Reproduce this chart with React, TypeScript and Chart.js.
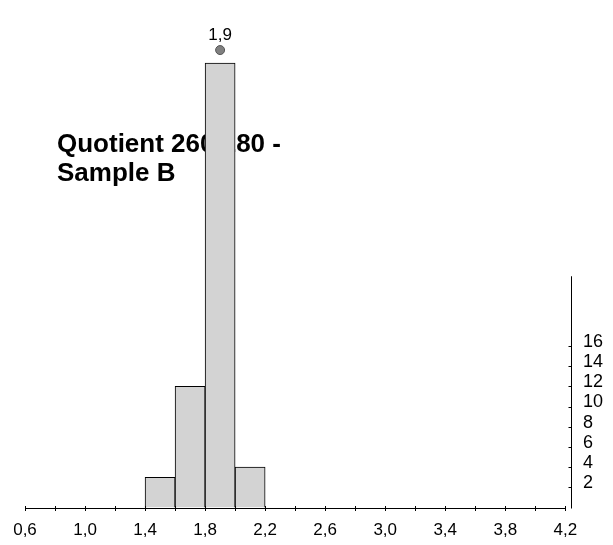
import { useEffect, useRef } from 'react';
import { Chart, registerables } from 'chart.js';

Chart.register(...registerables);

const BIN_CENTERS = [1.5, 1.7, 1.9, 2.1];
const BIN_COUNTS = [3, 12, 44, 4];
const MARKER_X = [1.9];
const MARKER_Y = [45.3];
const MARKER_LABELS = ['1,9'];
const X_TICKS = [0.6, 0.8, 1.0, 1.2, 1.4, 1.6, 1.8, 2.0, 2.2, 2.4, 2.6, 2.8, 3.0, 3.2, 3.4, 3.6, 3.8, 4.0, 4.2];
const X_LABELED = [0.6, 1.0, 1.4, 1.8, 2.2, 2.6, 3.0, 3.4, 3.8, 4.2];
const Y_TICKS = [2, 4, 6, 8, 10, 12, 14, 16];
const Y_AXIS_TOP = 22.9;
const TITLE_LINES = ['Quotient 260/280 -', 'Sample B'];

const FONT = "'Liberation Sans', Arial, sans-serif";

const fmt = (v: number) => v.toFixed(1).replace('.', ',');
const isLabeled = (v: number) => X_LABELED.some((l) => Math.abs(l - v) < 1e-6);

const decorPlugin = {
  id: 'decor',
  beforeDatasetsDraw(chart: any) {
    const ctx = chart.ctx;
    ctx.save();
    ctx.fillStyle = '#000';
    ctx.font = `bold 26px ${FONT}`;
    ctx.textBaseline = 'alphabetic';
    ctx.textAlign = 'left';
    const base = [152, 181];
    TITLE_LINES.forEach((t, i) => ctx.fillText(t, 57, base[i]));
    ctx.restore();
  },
  afterDraw(chart: any) {
    const ctx = chart.ctx;
    const xs = chart.scales.x;
    const ys = chart.scales.y;
    const r = (v: number) => Math.round(v) + 0.5;
    ctx.save();
    ctx.strokeStyle = '#000';
    ctx.lineWidth = 1;
    const y0 = r(ys.getPixelForValue(0));
    // x axis line
    ctx.beginPath();
    ctx.moveTo(r(xs.getPixelForValue(X_TICKS[0])), y0);
    ctx.lineTo(r(xs.getPixelForValue(X_TICKS[X_TICKS.length - 1])), y0);
    ctx.stroke();
    X_TICKS.forEach((v) => {
      const px = r(xs.getPixelForValue(v));
      ctx.beginPath();
      ctx.moveTo(px, y0 - 2.5);
      ctx.lineTo(px, y0 + 2.5);
      ctx.stroke();
    });
    // y axis line
    const ax = r(chart.chartArea.right);
    ctx.beginPath();
    ctx.moveTo(ax, y0);
    ctx.lineTo(ax, ys.getPixelForValue(Y_AXIS_TOP));
    ctx.stroke();
    Y_TICKS.forEach((v) => {
      const py = r(ys.getPixelForValue(v));
      ctx.beginPath();
      ctx.moveTo(ax - 3, py);
      ctx.lineTo(ax, py);
      ctx.stroke();
    });
    // marker labels
    const meta = chart.getDatasetMeta(1);
    ctx.fillStyle = '#000';
    ctx.font = `17px ${FONT}`;
    ctx.textAlign = 'center';
    ctx.textBaseline = 'middle';
    meta.data.forEach((pt: any, i: number) => {
      ctx.fillText(MARKER_LABELS[i], pt.x, pt.y - 15);
    });
    ctx.restore();
  },
};

export default function App() {
  const ref = useRef<HTMLCanvasElement>(null);
  useEffect(() => {
    if (!ref.current) return;
    const chart = new Chart(ref.current, {
      type: 'bar',
      data: {
        datasets: [
          {
            type: 'bar',
            data: BIN_CENTERS.map((x, i) => ({ x, y: BIN_COUNTS[i] })),
            backgroundColor: '#d3d3d3',
            borderColor: '#000',
            borderWidth: 1,
            barPercentage: 1,
            categoryPercentage: 1,
            order: 2,
          } as any,
          {
            type: 'scatter',
            data: MARKER_X.map((x, i) => ({ x, y: MARKER_Y[i] })),
            backgroundColor: '#808080',
            borderColor: '#555',
            borderWidth: 1,
            pointRadius: 4.5,
            order: 1,
          } as any,
        ],
      },
      options: {
        animation: false,
        responsive: true,
        maintainAspectRatio: false,
        layout: { padding: { left: 25, right: 0, top: 0, bottom: 0 } },
        plugins: { legend: { display: false }, tooltip: { enabled: false }, title: { display: false } },
        scales: {
          x: {
            type: 'linear',
            min: 0.6,
            max: 4.238,
            offset: false,
            grid: { display: false, drawTicks: false },
            border: { display: false },
            afterBuildTicks: (s: any) => {
              s.ticks = X_TICKS.map((v) => ({ value: v }));
            },
            afterFit: (s: any) => {
              s.height = 37.5;
            },
            ticks: {
              autoSkip: false,
              maxRotation: 0,
              padding: 13,
              color: '#000',
              font: { family: FONT, size: 17 },
              callback: (v: any) => (isLabeled(Number(v)) ? fmt(Number(v)) : ''),
            },
          },
          y: {
            type: 'linear',
            position: 'right',
            min: 0,
            max: 48,
            grid: { display: false, drawTicks: false },
            border: { display: false },
            afterBuildTicks: (s: any) => {
              s.ticks = Y_TICKS.map((v) => ({ value: v }));
            },
            afterFit: (s: any) => {
              s.width = 42;
            },
            ticks: {
              padding: 12,
              labelOffset: -4,
              color: '#000',
              font: { family: FONT, size: 18 },
              callback: (v: any) => String(v),
            },
          },
        },
      },
      plugins: [decorPlugin],
    });
    return () => chart.destroy();
  }, []);
  return (
    <div style={{ position: 'fixed', left: 0, top: 0, width: 613, height: 545, background: '#fff' }}>
      <canvas ref={ref} />
    </div>
  );
}
